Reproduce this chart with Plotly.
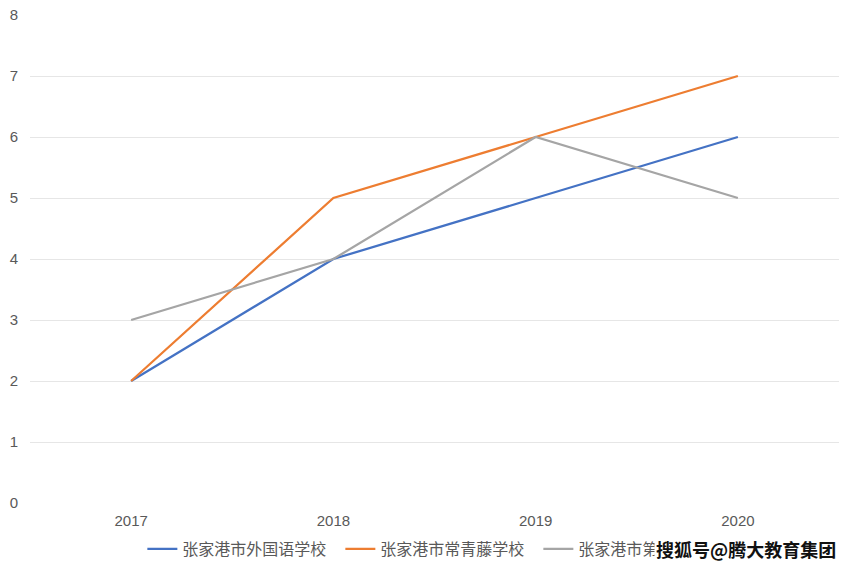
import plotly.graph_objects as go

years = ["2017", "2018", "2019", "2020"]
series_names = ["张家港市外国语学校", "张家港市常青藤学校", "张家港市第一中学"]
foreign = [2, 4, 5, 6]
ivy = [2, 5, 6, 7]
third = [3, 4, 6, 5]
colors = ["#4472C4", "#ED7D31", "#A5A5A5"]

fig = go.Figure()
for name, vals, c in zip(series_names, [foreign, ivy, third], colors):
    fig.add_trace(go.Scatter(x=years, y=vals, mode="lines", name=name,
                             line=dict(color=c, width=2.25)))

fig.update_layout(
    width=854, height=570,
    margin=dict(l=30, r=15, t=15, b=67, autoexpand=False),
    paper_bgcolor="white", plot_bgcolor="white",
    font=dict(family="Liberation Sans, Noto Sans CJK SC, sans-serif", size=15, color="#595959"),
    showlegend=True,
    legend=dict(orientation="h", x=0.506, xanchor="center", y=-0.094, yanchor="middle",
                font=dict(size=16, color="#595959", family="Noto Sans CJK SC, Liberation Sans"),
                itemwidth=30, tracegroupgap=0, entrywidth=153, entrywidthmode="pixels"),
    xaxis=dict(type="category", range=[-0.5, 3.5], showgrid=False, showline=False,
               ticks="", ticklabelstandoff=7, tickfont=dict(size=15, color="#595959")),
    yaxis=dict(range=[0, 8], dtick=1, showgrid=True, gridcolor="#E6E6E6", gridwidth=1.3,
               zeroline=False, showline=False, ticks="", ticklabelstandoff=11,
               tickfont=dict(size=15, color="#595959")),
    annotations=[dict(text="<b>搜狐号@腾大教育集团</b>", xref="paper", yref="paper",
                      x=0.999, y=-0.094, xanchor="right", yanchor="middle", showarrow=False,
                      bgcolor="white",
                      font=dict(size=18, color="#111111", family="Noto Sans CJK SC"))],
)
fig.write_html("out.html", config={"displayModeBar": False},
               post_script="document.body.style.margin='0';document.body.style.overflow='hidden';")
